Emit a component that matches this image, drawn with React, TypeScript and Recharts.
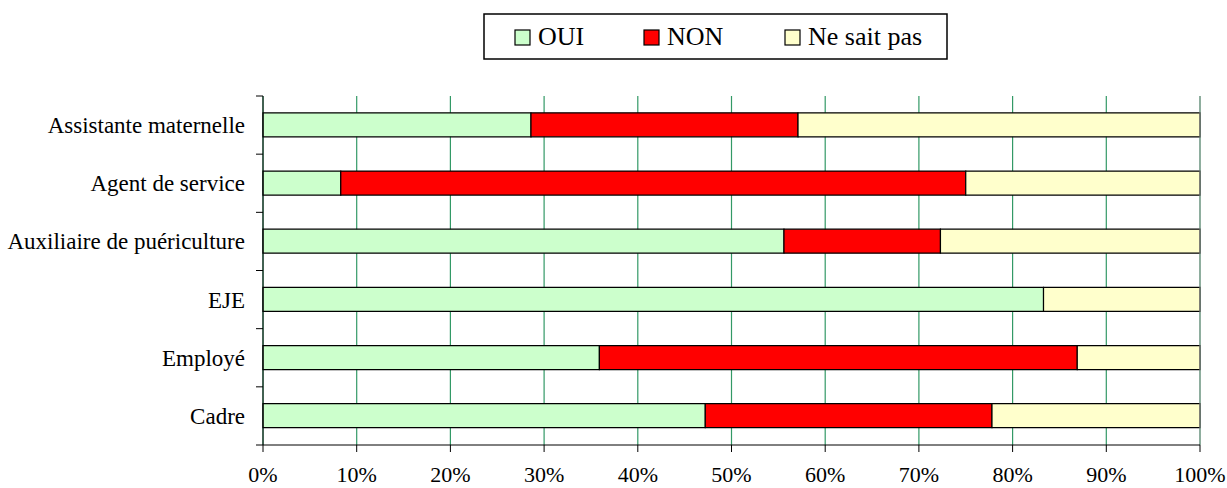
import React from 'react';
import { BarChart, Bar, XAxis, YAxis, CartesianGrid, ReferenceLine } from 'recharts';

// Données (%)
const categories = ['Assistante maternelle', 'Agent de service', 'Auxiliaire de puériculture', 'EJE', 'Employé', 'Cadre'];
const oui = [28.6, 8.3, 55.6, 83.3, 35.9, 47.2];
const non = [28.5, 66.7, 16.7, 0, 51.0, 30.6];
const neSaitPas = [42.9, 25.0, 27.7, 16.7, 13.1, 22.2];
const xTicks = [0, 0.1, 0.2, 0.3, 0.4, 0.5, 0.6, 0.7, 0.8, 0.9, 1];

const series = [
  { key: 'oui', name: 'OUI', color: '#CCFFCC' },
  { key: 'non', name: 'NON', color: '#FF0000' },
  { key: 'nsp', name: 'Ne sait pas', color: '#FFFFCC' },
];

const data = categories.map((name, i) => ({ name, oui: oui[i], non: non[i], nsp: neSaitPas[i] }));

const W = 1227;
const H = 488;
const MARGIN = { top: 96, right: 27, bottom: 0, left: 0 };
const Y_AXIS_W = 263;
const X_AXIS_H = 43;
const PLOT_H = H - MARGIN.top - MARGIN.bottom - X_AXIS_H;
const FONT = "'Liberation Serif', 'Times New Roman', serif";

// légende encadrée en haut
const LEGEND_BOX = { x: 484, y: 14, w: 463, h: 45 };
const LEGEND_ITEM_X = [515, 644, 785];

// étiquettes de catégorie + graduations placées entre les catégories
const CategoryTick = (props: any) => {
  const { y, payload, index } = props;
  const half = PLOT_H / categories.length / 2;
  return (
    <g>
      <line x1={Y_AXIS_W - 7} x2={Y_AXIS_W} y1={y - half} y2={y - half} stroke="#000" />
      {index === categories.length - 1 && (
        <line x1={Y_AXIS_W - 7} x2={Y_AXIS_W} y1={y + half} y2={y + half} stroke="#000" />
      )}
      <text x={Y_AXIS_W - 18} y={y} dy="0.35em" textAnchor="end" fontSize={23} fill="#000" fontFamily={FONT}>
        {payload.value}
      </text>
    </g>
  );
};

function LegendBox() {
  return (
    <svg width={W} height={70} style={{ position: 'absolute', left: 0, top: 0 }}>
      <rect
        x={LEGEND_BOX.x}
        y={LEGEND_BOX.y}
        width={LEGEND_BOX.w}
        height={LEGEND_BOX.h}
        fill="#fff"
        stroke="#000"
        strokeWidth={1.5}
      />
      {series.map((s, i) => (
        <g key={s.key}>
          <rect x={LEGEND_ITEM_X[i]} y={30} width={15} height={15} fill={s.color} stroke="#000" strokeWidth={1.2} />
          <text x={LEGEND_ITEM_X[i] + 23} y={45} fontSize={26} fill="#000" fontFamily={FONT}>
            {s.name}
          </text>
        </g>
      ))}
    </svg>
  );
}

export default function App() {
  return (
    <div style={{ position: 'absolute', left: 0, top: 0, width: W, height: H, background: '#fff' }}>
      <BarChart
        width={W}
        height={H}
        data={data}
        layout="vertical"
        stackOffset="expand"
        barCategoryGap="29%"
        margin={MARGIN}
      >
        <CartesianGrid horizontal={false} vertical stroke="#339966" strokeWidth={1.2} />
        <XAxis
          type="number"
          domain={[0, 1]}
          ticks={xTicks}
          tickFormatter={(v: number) => `${Math.round(v * 100)}%`}
          height={X_AXIS_H}
          stroke="#000"
          tickSize={7}
          tickMargin={14}
          tick={{ fill: '#000', fontSize: 22, fontFamily: FONT }}
          interval={0}
        />
        <XAxis
          xAxisId="top"
          orientation="top"
          type="number"
          domain={[0, 1]}
          height={0}
          tick={false}
          tickLine={false}
          stroke="#999"
        />
        <YAxis
          type="category"
          dataKey="name"
          width={Y_AXIS_W}
          stroke="#000"
          tickLine={false}
          tick={<CategoryTick />}
          interval={0}
        />
        <ReferenceLine x={1} stroke="#999" />
        {series.map((s) => (
          <Bar
            key={s.key}
            dataKey={s.key}
            name={s.name}
            stackId="a"
            fill={s.color}
            stroke="#000"
            strokeWidth={1.2}
            isAnimationActive={false}
          />
        ))}
      </BarChart>
      <LegendBox />
    </div>
  );
}
